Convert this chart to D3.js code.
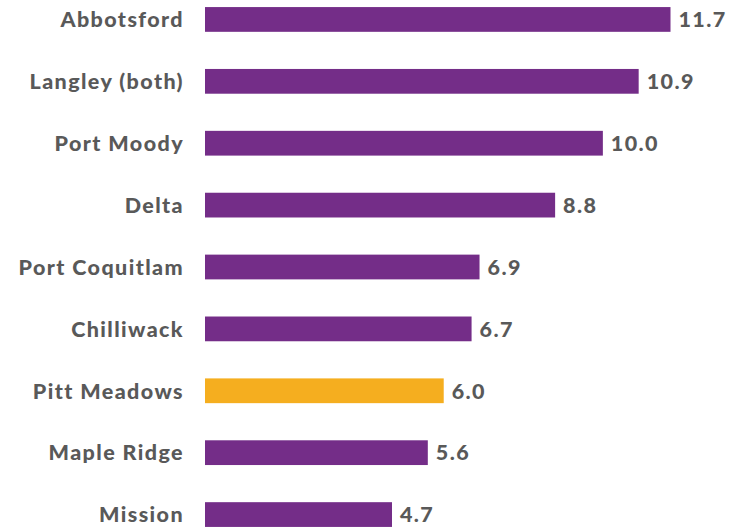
<!DOCTYPE html>
<html>
<head>
<meta charset="utf-8">
<script src="https://cdn.jsdelivr.net/npm/d3@7"></script>
<style>
  html, body { margin: 0; padding: 0; background: #ffffff; }
  svg { display: block; }
  text { font-family: "Lato", "Open Sans", sans-serif; font-weight: 900; fill: #595959; letter-spacing: 1.4px; }
</style>
</head>
<body>
<svg id="chart" width="734" height="529"></svg>
<script>
// Communities and their values, top to bottom
const communities = ["Abbotsford", "Langley (both)", "Port Moody", "Delta", "Port Coquitlam",
                     "Chilliwack", "Pitt Meadows", "Maple Ridge", "Mission"];
const values = [11.7, 10.9, 10.0, 8.8, 6.9, 6.7, 6.0, 5.6, 4.7];
const highlighted = ["Pitt Meadows"];

const purple = "#742d88";
const gold = "#f5ae1f";

const svg = d3.select("#chart");
const data = communities.map((name, i) => ({ name, value: values[i] }));

const x = d3.scaleLinear().domain([0, 11.7]).range([205, 670.5]);
const y = d3.scaleBand().domain(communities).range([-11.5, 545.5]).paddingInner(0.6).paddingOuter(0.3);

svg.selectAll("rect.bar")
  .data(data)
  .join("rect")
  .attr("class", "bar")
  .attr("x", x(0))
  .attr("y", d => y(d.name))
  .attr("width", d => x(d.value) - x(0))
  .attr("height", y.bandwidth())
  .attr("fill", d => highlighted.includes(d.name) ? gold : purple);

svg.selectAll("text.cat")
  .data(data)
  .join("text")
  .attr("class", "cat")
  .attr("x", 184)
  .attr("y", d => y(d.name) + y.bandwidth() / 2)
  .attr("dy", "0.36em")
  .attr("text-anchor", "end")
  .style("font-size", "21.5px")
  .text(d => d.name);

svg.selectAll("text.val")
  .data(data)
  .join("text")
  .attr("class", "val")
  .attr("x", d => x(d.value) + 8)
  .attr("y", d => y(d.name) + y.bandwidth() / 2)
  .attr("dy", "0.36em")
  .style("font-size", "21.5px")
  .text(d => d.value.toFixed(1));
</script>
</body>
</html>
